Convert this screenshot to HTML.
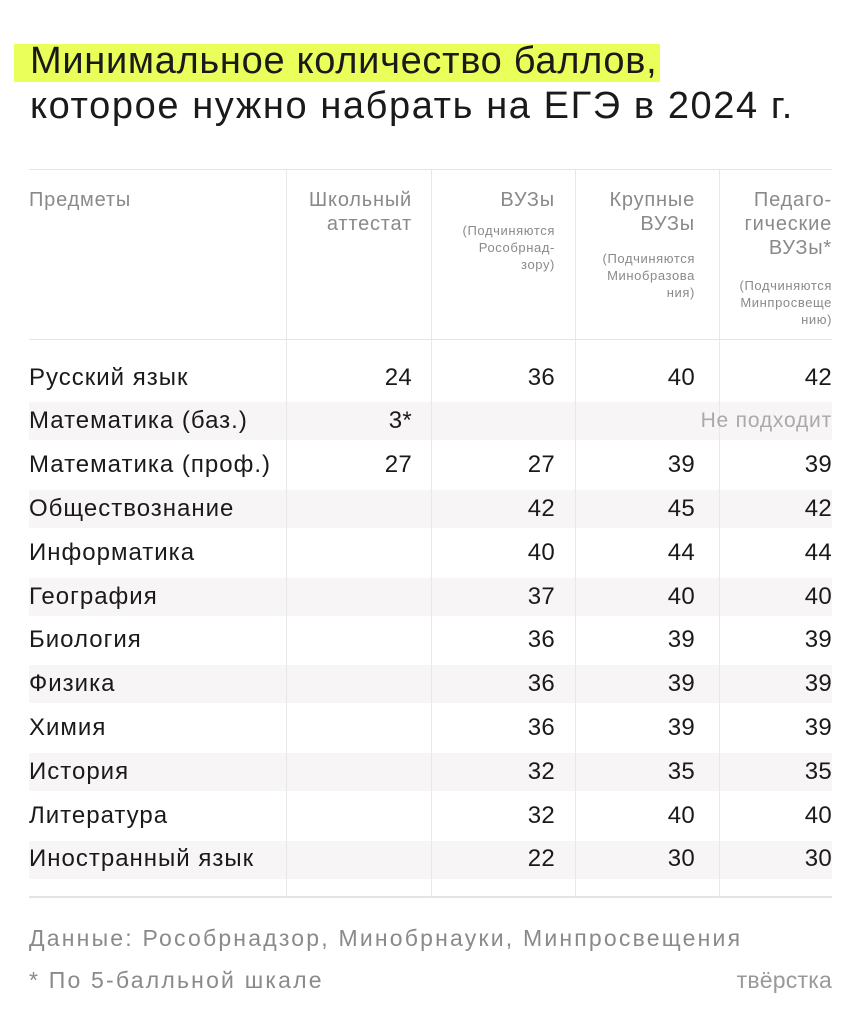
<!DOCTYPE html>
<html><head><meta charset="utf-8"><style>
*{margin:0;padding:0;box-sizing:border-box}
body{width:862px;height:1024px;background:#fff;position:relative;overflow:hidden;font-family:"Liberation Sans","DejaVu Sans",sans-serif;color:#1a1a1a}
.a{position:absolute;white-space:nowrap}
.hl{position:absolute;left:14px;top:44px;width:646px;height:38px;background:#eaff5a}
.t{font-size:38px;letter-spacing:0.7px}
.hl2{position:absolute;left:29px;width:803px;height:1px;background:#e4e4e4}
.v{position:absolute;top:170px;height:727px;width:1px;background:#e8e8e8}
.sh{position:absolute;left:29px;width:803px;height:38px;background:#f7f5f6}
.h{font-size:20px;color:#8a8a8a;text-align:right;line-height:24px;letter-spacing:0.8px}
.s{font-size:13px;color:#8a8a8a;text-align:right;line-height:17px;letter-spacing:0.6px}
.r{font-size:24px;line-height:26px;letter-spacing:1px}
.n{text-align:right;width:60px;letter-spacing:0.3px}
.f{font-size:23px;color:#8a8a8a;letter-spacing:2.2px}
</style></head><body>
<div class="hl"></div>
<div class="a t" style="left:30px;top:40px">Минимальное количество баллов,</div>
<div class="a t" style="left:30px;top:85px;letter-spacing:1.6px">которое нужно набрать на ЕГЭ в 2024 г.</div>

<div class="hl2" style="top:169px"></div>
<div class="hl2" style="top:339px"></div>
<div class="hl2" style="top:896px;height:2px"></div>

<div class="sh" style="top:402px"></div>
<div class="sh" style="top:490px"></div>
<div class="sh" style="top:578px"></div>
<div class="sh" style="top:665px"></div>
<div class="sh" style="top:753px"></div>
<div class="sh" style="top:841px"></div>

<div class="v" style="left:286px"></div>
<div class="v" style="left:431px"></div>
<div class="v" style="left:575px"></div>
<div class="v" style="left:719px"></div>

<div class="a h" style="left:29px;top:188px;text-align:left">Предметы</div>
<div class="a h" style="right:450px;top:188px">Школьный<br>аттестат</div>
<div class="a h" style="right:307px;top:188px">ВУЗы</div>
<div class="a s" style="right:307px;top:222px">(Подчиняются<br>Рособрнад-<br>зору)</div>
<div class="a h" style="right:167px;top:188px">Крупные<br>ВУЗы</div>
<div class="a s" style="right:167px;top:250px">(Подчиняются<br>Минобразова<br>ния)</div>
<div class="a h" style="right:30px;top:188px">Педаго-<br>гические<br>ВУЗы*</div>
<div class="a s" style="right:30px;top:277px">(Подчиняются<br>Минпросвеще<br>нию)</div>

<div class="a r" style="left:29px;top:365px">Русский язык</div>
<div class="a r" style="left:29px;top:408px">Математика (баз.)</div>
<div class="a r" style="left:29px;top:452px">Математика (проф.)</div>
<div class="a r" style="left:29px;top:496px">Обществознание</div>
<div class="a r" style="left:29px;top:540px">Информатика</div>
<div class="a r" style="left:29px;top:584px">География</div>
<div class="a r" style="left:29px;top:627px">Биология</div>
<div class="a r" style="left:29px;top:671px">Физика</div>
<div class="a r" style="left:29px;top:715px">Химия</div>
<div class="a r" style="left:29px;top:759px">История</div>
<div class="a r" style="left:29px;top:803px">Литература</div>
<div class="a r" style="left:29px;top:846px">Иностранный язык</div>

<div class="a r n" style="left:352px;top:365px">24</div>
<div class="a r n" style="left:352px;top:408px">3*</div>
<div class="a r n" style="left:352px;top:452px">27</div>
<div class="a r" style="right:30px;top:408px;color:#aaa;font-size:21px;letter-spacing:0.8px">Не подходит</div>

<div class="a r n" style="left:495px;top:365px">36</div>
<div class="a r n" style="left:635px;top:365px">40</div>
<div class="a r n" style="left:772px;top:365px">42</div>

<div class="a r n" style="left:495px;top:452px">27</div><div class="a r n" style="left:635px;top:452px">39</div><div class="a r n" style="left:772px;top:452px">39</div>
<div class="a r n" style="left:495px;top:496px">42</div><div class="a r n" style="left:635px;top:496px">45</div><div class="a r n" style="left:772px;top:496px">42</div>
<div class="a r n" style="left:495px;top:540px">40</div><div class="a r n" style="left:635px;top:540px">44</div><div class="a r n" style="left:772px;top:540px">44</div>
<div class="a r n" style="left:495px;top:584px">37</div><div class="a r n" style="left:635px;top:584px">40</div><div class="a r n" style="left:772px;top:584px">40</div>
<div class="a r n" style="left:495px;top:627px">36</div><div class="a r n" style="left:635px;top:627px">39</div><div class="a r n" style="left:772px;top:627px">39</div>
<div class="a r n" style="left:495px;top:671px">36</div><div class="a r n" style="left:635px;top:671px">39</div><div class="a r n" style="left:772px;top:671px">39</div>
<div class="a r n" style="left:495px;top:715px">36</div><div class="a r n" style="left:635px;top:715px">39</div><div class="a r n" style="left:772px;top:715px">39</div>
<div class="a r n" style="left:495px;top:759px">32</div><div class="a r n" style="left:635px;top:759px">35</div><div class="a r n" style="left:772px;top:759px">35</div>
<div class="a r n" style="left:495px;top:803px">32</div><div class="a r n" style="left:635px;top:803px">40</div><div class="a r n" style="left:772px;top:803px">40</div>
<div class="a r n" style="left:495px;top:846px">22</div><div class="a r n" style="left:635px;top:846px">30</div><div class="a r n" style="left:772px;top:846px">30</div>

<div class="a f" style="left:29px;top:925px">Данные: Рособрнадзор, Минобрнауки, Минпросвещения</div>
<div class="a f" style="left:29px;top:967px">* По 5-балльной шкале</div>
<div class="a f" style="right:30px;top:967px;color:#999;letter-spacing:0.2px">твёрстка</div>
</body></html>
